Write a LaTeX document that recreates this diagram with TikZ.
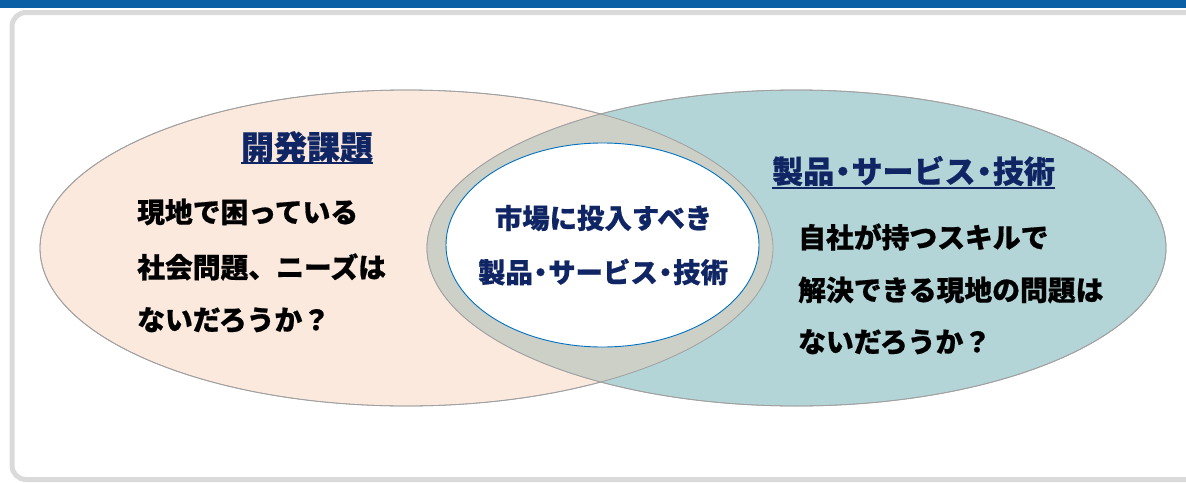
\documentclass[tikz,border=0pt]{standalone}
\usepackage{fontspec}
\newfontfamily\jp{Noto Sans CJK JP}[BoldFeatures={FakeBold=0.7}]
\usetikzlibrary{shapes.geometric}
\definecolor{barblue}{RGB}{11,95,165}
\definecolor{framegray}{RGB}{218,218,218}
\definecolor{peach}{RGB}{251,233,222}
\definecolor{teal}{RGB}{180,213,216}
\definecolor{lensgray}{RGB}{205,208,198}
\definecolor{edgegray}{RGB}{160,160,160}
\definecolor{navy}{RGB}{16,38,100}
\definecolor{innerblue}{RGB}{0,112,192}
\newcommand{\ndot}{\kern-0.22em・\kern-0.22em}
\tikzset{
  bigell/.style={ellipse, draw=edgegray, line width=0.8pt, inner sep=0pt},
  heading/.style={inner sep=0pt, font=\jp\bfseries\fontsize{31}{31}\selectfont, text=navy},
  body/.style={inner sep=0pt, anchor=west, font=\jp\bfseries\fontsize{27.8}{27.8}\selectfont, text=black},
  center/.style={inner sep=0pt, font=\jp\bfseries\fontsize{27.4}{27.4}\selectfont, text=navy},
  uline/.style={draw=navy, line width=1.6pt}
}
\begin{document}
\begin{tikzpicture}[x=1pt,y=-1pt]
\useasboundingbox (0,0) rectangle (1186,482);
\fill[barblue] (0,0) rectangle (1186,8);
\draw[framegray, line width=5pt, rounded corners=14pt] (12,12.5) rectangle (1230,479.5);
% big ellipses
\node[bigell, fill=peach, minimum width=733pt, minimum height=316pt] (L) at (406.5,248) {};
\node[bigell, fill=teal, minimum width=739pt, minimum height=316pt] (R) at (796.5,248) {};
\begin{scope}
  \clip (406.5,248) ellipse [x radius=366.5pt, y radius=158pt];
  \fill[lensgray] (796.5,248) ellipse [x radius=369.5pt, y radius=158pt];
\end{scope}
\draw[edgegray, line width=0.8pt] (406.5,248) ellipse [x radius=366.5pt, y radius=158pt];
\draw[edgegray, line width=0.8pt] (796.5,248) ellipse [x radius=369.5pt, y radius=158pt];
% inner ellipse
\node[ellipse, draw=innerblue, line width=0.9pt, fill=white, minimum width=313pt, minimum height=204pt, inner sep=0pt] (C) at (602.5,245) {};
% headings
\node[heading, font=\jp\bfseries\fontsize{33}{33}\selectfont] (hL) at (307,147) {開発課題};
\draw[uline] (hL.south west |- 0,163) coordinate (uL1) -- (hL.south east |- 0,163) coordinate (uL2);
\node[heading, anchor=west] (hR) at (772,171) {製品\ndot サービス\ndot 技術};
\draw[uline] (hR.south west |- 0,188) coordinate (uR1) -- (hR.south east |- 0,188) coordinate (uR2);
% left body
\node[body] (l1) at (137,212) {現地で困っている};
\node[body] (l2) at (137,267) {社会問題、ニーズは};
\node[body] (l3) at (137,320) {ないだろうか？};
% right body
\node[body] (r1) at (798,237) {自社が持つスキルで};
\node[body] (r2) at (798,290) {解決できる現地の問題は};
\node[body] (r3) at (798,342) {ないだろうか？};
% center
\node[center] (c1) at (603.5,218) {市場に投入すべき};
\node[center] (c2) at (603,272) {製品\ndot サービス\ndot 技術};
\end{tikzpicture}
\end{document}
